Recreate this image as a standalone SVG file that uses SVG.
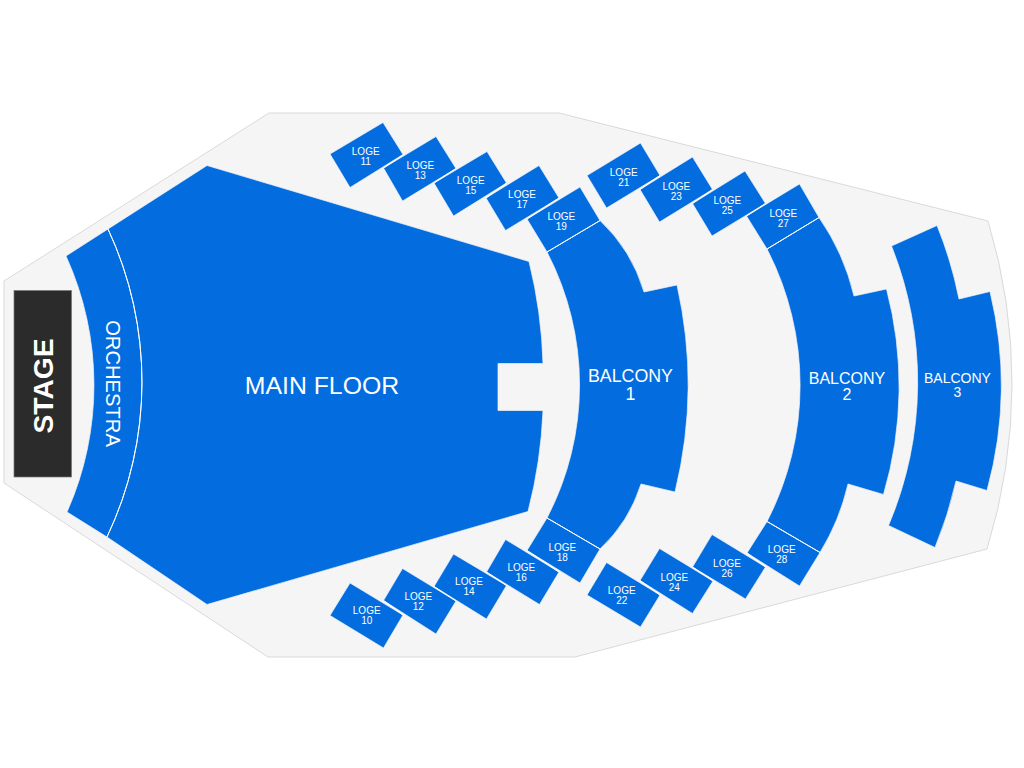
<svg xmlns="http://www.w3.org/2000/svg" width="1024" height="768" viewBox="0 0 1024 768">
<style>
text{font-family:"Liberation Sans",Arial,sans-serif;fill:#fff;text-anchor:middle}
.s{fill:#036cdf;stroke:#f2f3f5;stroke-width:.7;stroke-linejoin:miter}
.l{font-size:10px}
#dividers path{fill:none;stroke:#fff;stroke-width:1}
</style>
<rect width="1024" height="768" fill="#fff"/>
<path id="venue" d="M4 281L269 113H559L988 221A561 561 0 0 1 987 549L575 657H268L4 483Z" fill="#f5f5f6" stroke="#d9d9d9" stroke-width="1"/>
<g id="stage"><rect x="14" y="290.500" width="57.500" height="186.500" fill="#2b2b2b" stroke="#777" stroke-width=".7"/>
<text transform="translate(52.500 386) rotate(-90)" font-size="28.200" font-weight="700">STAGE</text></g>
<g id="orchestra"><path class="s" d="M66 256L108 229A361 361 0 0 1 107 537L67 512A312 312 0 0 0 66 256Z"/>
<text transform="translate(105.500 383.500) rotate(90)" font-size="20.200">ORCHESTRA</text></g>
<g id="main-floor"><path class="s" d="M207 165.500L529 261.500A478 478 0 0 1 543 363.500H498V410.500H543A478 478 0 0 1 528 511.500L207 604.500L107 537A361 361 0 0 0 108 229Z"/>
<text x="322" y="394" font-size="24.800">MAIN FLOOR</text></g>
<g id="balcony-1"><path class="s" d="M547 252L600 220.500A160 160 0 0 1 644 292L677 285A452 452 0 0 1 675 492L641 484A150 150 0 0 1 600 549L547 518A288 288 0 0 0 547 252Z"/>
<text x="630.500" y="382" font-size="17.800">BALCONY</text><text x="630.500" y="399.500" font-size="17.800">1</text></g>
<g id="balcony-2"><path class="s" d="M767 249L819 217.500A230 230 0 0 1 854 296L886.500 289A382 382 0 0 1 883.500 494.500L848 484A230 230 0 0 1 820 552.500L767 521.500A297 297 0 0 0 767 249Z"/>
<text x="847" y="384" font-size="16px">BALCONY</text><text x="847" y="400" font-size="16px">2</text></g>
<g id="balcony-3"><path class="s" d="M891.500 246L937 225.500A400 400 0 0 1 959 299L990 291.500A398 398 0 0 1 987 490.500L956 481A400 400 0 0 1 935 547.500L888.500 525.500A367 367 0 0 0 891.500 246Z"/>
<text x="957.500" y="382.700" font-size="14px">BALCONY</text><text x="957.500" y="396.700" font-size="14px">3</text></g>
<g id="loge-11"><polygon class="s" points="330,154 383,122.500 403,154.500 350,187.500"/><text class="l" x="365.700" y="155">LOGE</text><text class="l" x="365.700" y="165">11</text></g>
<g id="loge-13"><polygon class="s" points="383.500,168 436,136.500 456,168.500 402.500,201"/><text class="l" x="420.300" y="169.300">LOGE</text><text class="l" x="420.300" y="179.300">13</text></g>
<g id="loge-15"><polygon class="s" points="434,183 487,151.500 506.500,183 453.500,216"/><text class="l" x="470.700" y="183.700">LOGE</text><text class="l" x="470.700" y="193.700">15</text></g>
<g id="loge-17"><polygon class="s" points="486,198 539,165.500 559,198 505.500,230.500"/><text class="l" x="522" y="198.300">LOGE</text><text class="l" x="522" y="208.300">17</text></g>
<g id="loge-19"><polygon class="s" points="527,219 580,187 600,220.500 547,252"/><text class="l" x="561.300" y="220.300">LOGE</text><text class="l" x="561.300" y="230.300">19</text></g>
<g id="loge-21"><polygon class="s" points="587,175.500 640.500,143 660,175.500 606.500,208"/><text class="l" x="623.700" y="176">LOGE</text><text class="l" x="623.700" y="186">21</text></g>
<g id="loge-23"><polygon class="s" points="640,189.500 692.500,157 712.500,189.500 659.500,222"/><text class="l" x="676.300" y="190">LOGE</text><text class="l" x="676.300" y="200">23</text></g>
<g id="loge-25"><polygon class="s" points="692.500,203.500 745,171 765.500,203.500 712,236"/><text class="l" x="727.300" y="203.700">LOGE</text><text class="l" x="727.300" y="213.700">25</text></g>
<g id="loge-27"><polygon class="s" points="746.500,216 799.500,184 819,217.500 767,249"/><text class="l" x="783.300" y="217">LOGE</text><text class="l" x="783.300" y="227">27</text></g>
<g id="loge-10"><polygon class="s" points="330,615.500 350,583 403,615 383.500,648"/><text class="l" x="366.700" y="614.300">LOGE</text><text class="l" x="366.700" y="624.300">10</text></g>
<g id="loge-12"><polygon class="s" points="383.500,600.500 402.500,568.500 456,601 436,634"/><text class="l" x="418.300" y="600">LOGE</text><text class="l" x="418.300" y="610">12</text></g>
<g id="loge-14"><polygon class="s" points="434,586.500 453.500,554 506.500,585.500 486.500,619"/><text class="l" x="469" y="585.300">LOGE</text><text class="l" x="469" y="595.300">14</text></g>
<g id="loge-16"><polygon class="s" points="486.500,572 505.500,539.500 559,572 539.500,604.500"/><text class="l" x="521.300" y="571">LOGE</text><text class="l" x="521.300" y="581">16</text></g>
<g id="loge-18"><polygon class="s" points="527,550.500 547,518 600,549 580,583"/><text class="l" x="562.300" y="550.700">LOGE</text><text class="l" x="562.300" y="560.700">18</text></g>
<g id="loge-22"><polygon class="s" points="587,595 606.500,562.500 660,595 640.500,627"/><text class="l" x="621.700" y="594">LOGE</text><text class="l" x="621.700" y="604">22</text></g>
<g id="loge-24"><polygon class="s" points="640,580.500 659.500,548.500 713,581 692.500,613.500"/><text class="l" x="674.300" y="580.700">LOGE</text><text class="l" x="674.300" y="590.700">24</text></g>
<g id="loge-26"><polygon class="s" points="692.500,567 712,534.500 765.500,567 745.500,599"/><text class="l" x="727" y="567.300">LOGE</text><text class="l" x="727" y="577.300">26</text></g>
<g id="loge-28"><polygon class="s" points="747,553 767,521.500 820,552.500 799.500,586"/><text class="l" x="781.700" y="553.300">LOGE</text><text class="l" x="781.700" y="563.300">28</text></g>
<g id="dividers">
<path d="M108 229A361 361 0 0 1 107 537"/>
<path d="M547 252L600 220.500M767 249L819 217.500M547 518L600 549M767 521.500L820 552.500"/>
<path d="M383.500 168L403 155M434 183L456 168.500M486 198L506.500 183M527 219L559 198M640 189.500L660 175.500M692.500 203.500L712.500 189.500M746.500 216L765.500 203.500"/>
<path d="M383.500 600.500L403 615M434 586.500L456 601M486.500 572L506.500 585.500M527 550.500L559 572M640 580.500L660 595M692.500 567L713 581M747 553L765.500 567"/>
</g>
</svg>
